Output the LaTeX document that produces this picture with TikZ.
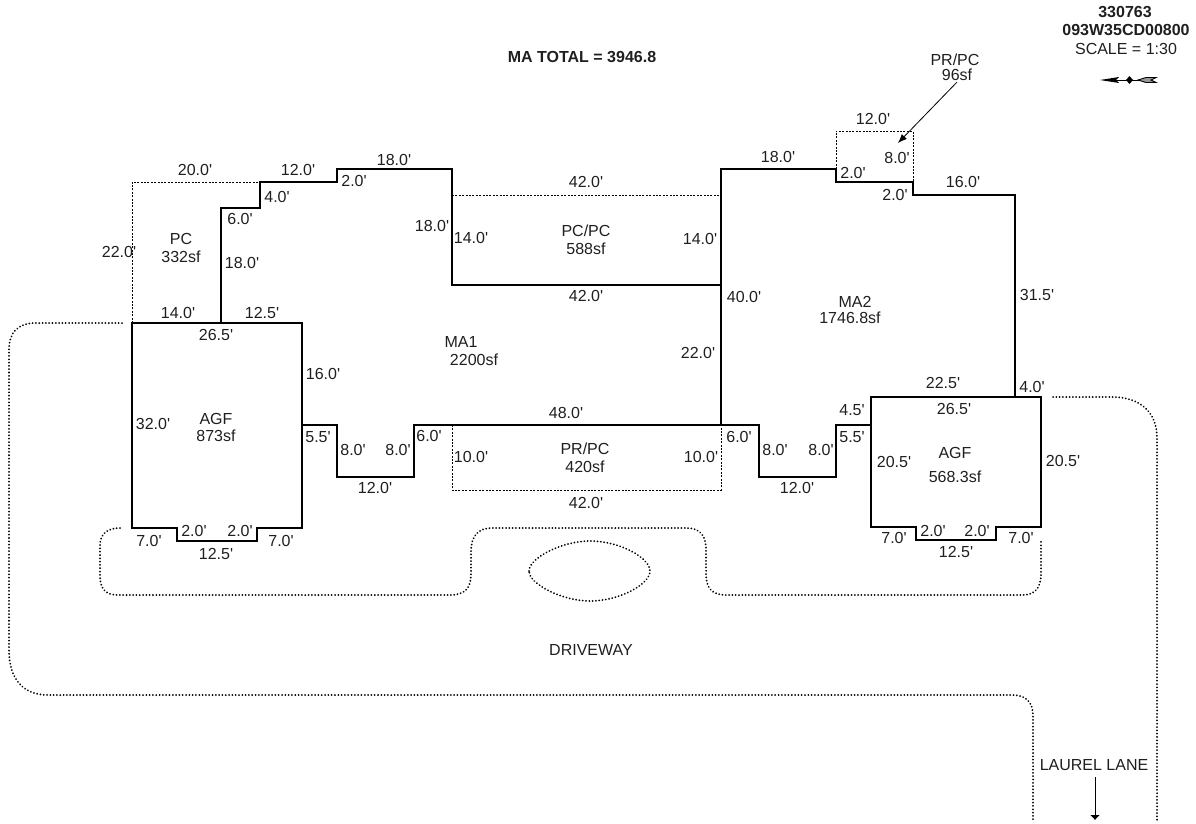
\documentclass[tikz,border=0pt]{standalone}
\usepackage{fontspec}
\newfontfamily\planfont{Liberation Sans}
\usetikzlibrary{arrows.meta}
\tikzset{
    wall/.style={line width=2.4pt, line join=miter},
    hidden/.style={line width=0.8pt, dash pattern=on 2pt off 1.4pt},
    drive/.style={line width=2pt, line cap=round, dash pattern=on 0.01pt off 3.3pt},
    leader/.style={line width=0.8pt, -{Latex[length=9pt,width=7pt]}},
    lbl/.style={inner sep=0pt, font=\planfont\fontsize{16}{17}\selectfont, text=black!88},
    bold/.style={lbl, font=\planfont\fontsize{16}{17}\selectfont\bfseries},
}
\begin{document}
\begin{tikzpicture}[x=1pt,y=-1pt]
    \useasboundingbox (0,0) rectangle (1196,823);
    % Walls
    \draw[wall] (132,323) -- (302,323) -- (302,528) -- (257,528) -- (257,541) -- (177,541) -- (177,528) -- (132,528) -- cycle;
    \draw[wall] (221,323) -- (221,208) -- (260,208) -- (260,182) -- (337,182) -- (337,169) -- (452,169) -- (452,285) -- (721,285);
    \draw[wall] (302,425) -- (337,425) -- (337,477) -- (414,477) -- (414,425) -- (759,425) -- (759,477) -- (836,477) -- (836,425) -- (871,425);
    \draw[wall] (721,425) -- (721,169) -- (836,169) -- (836,182) -- (913,182) -- (913,195) -- (1015,195) -- (1015,397);
    \draw[wall] (871,397) -- (1041,397) -- (1041,527) -- (996,527) -- (996,540) -- (916,540) -- (916,527) -- (871,527) -- cycle;
    % Porches
    \draw[hidden] (132,323) -- (132,182) -- (260,182);
    \draw[hidden] (452,195) -- (721,195);
    \draw[hidden] (452,425) -- (452,490) -- (721,490) -- (721,425);
    \draw[hidden] (836,169) -- (836,131) -- (913,131) -- (913,182);
    % Driveway
    \draw[drive] (122,323) -- (36,323) .. controls (18,323) and (9,332) .. (9,350) -- (9,650) .. controls (9,680) and (24,695) .. (48,695) -- (1012,695) .. controls (1026,695) and (1033,702) .. (1033,716) -- (1033,821);
    \draw[drive] (1053,397) -- (1112,397) .. controls (1140,397) and (1157,412) .. (1157,438) -- (1157,821);
    \draw[drive] (120,528) .. controls (107,528) and (100,534) .. (100,546) -- (100,576) .. controls (100,589) and (106,595) .. (118,595) -- (450,595) .. controls (465,595) and (471,588) .. (471,574) -- (471,552) .. controls (471,536) and (478,528) .. (492,528) -- (686,528) .. controls (700,528) and (706,535) .. (706,550) -- (706,574) .. controls (706,588) and (712,595) .. (726,595) -- (1022,595) .. controls (1035,595) and (1041,588) .. (1041,574) -- (1041,540);
    \draw[drive] (529,571) .. controls (529,558) and (562,541) .. (590,541) .. controls (620,541) and (650,558) .. (650,571) .. controls (650,584) and (620,601) .. (590,601) .. controls (562,601) and (529,584) .. (529,571) -- cycle;
    % Header
    \node[bold] (total) at (582,57) {MA TOTAL = 3946.8};
    \node[bold] (acct) at (1125,12) {330763};
    \node[bold] (parcel) at (1126,30) {093W35CD00800};
    \node[lbl] (scale) at (1126,49) {SCALE = 1:30};
    % North arrow
    \draw[line width=0.8pt] (1110,80) -- (1140,80);
    \fill[black] (1100,80) -- (1119,77) -- (1116,80) -- (1119,83) -- cycle;
    \fill[black] (1129.5,76) -- (1133,80) -- (1129.5,84) -- (1126,80) -- cycle;
    \draw[line width=0.9pt, fill=black!40] (1138,80) -- (1146,77.5) -- (1156,77.5) -- (1151,80) -- (1156,82.5) -- (1146,82.5) -- cycle;
    % Rooms
    \node[lbl] (prpcb) at (955,60) {PR/PC};
    \node[lbl] (prpcbsf) at (957,75) {96sf};
    \coordinate (prpctip) at (898,143);
    \draw[leader] (prpcbsf.south) ++(0,1) -- (prpctip);
    \node[lbl] (pc) at (181,239) {PC};
    \node[lbl] (pcsf) at (181,257) {332sf};
    \node[lbl] (pcpc) at (586,231) {PC/PC};
    \node[lbl] (pcpcsf) at (586,249) {588sf};
    \node[lbl] (ma1) at (461,342) {MA1};
    \node[lbl] (ma1sf) at (474,360) {2200sf};
    \node[lbl] (ma2) at (855,302) {MA2};
    \node[lbl] (ma2sf) at (850,318) {1746.8sf};
    \node[lbl] (agfa) at (216,419) {AGF};
    \node[lbl] (agfasf) at (216,436) {873sf};
    \node[lbl] (prpca) at (585,449) {PR/PC};
    \node[lbl] (prpcasf) at (585,467) {420sf};
    \node[lbl] (agfb) at (955,453) {AGF};
    \node[lbl] (agfbsf) at (955,477) {568.3sf};
    \node[lbl] (drv) at (591,650) {DRIVEWAY};
    \node[lbl] (lane) at (1094,765) {LAUREL LANE};
    \coordinate (lanetip) at (1095,820);
    \draw[line width=0.8pt, -{Latex[length=5pt,width=10pt]}] (1095,777) -- (lanetip);
    % Dimensions, upper left
    \node[lbl] (d01) at (195,170) {20.0'};
    \node[lbl] (d02) at (298,170) {12.0'};
    \node[lbl] (d03) at (394,160) {18.0'};
    \node[lbl] (d04) at (354,181) {2.0'};
    \node[lbl] (d05) at (277,197) {4.0'};
    \node[lbl] (d06) at (240,219) {6.0'};
    \node[lbl] (d07) at (119,252) {22.0'};
    \node[lbl] (d08) at (242,263) {18.0'};
    \node[lbl] (d09) at (432,226) {18.0'};
    \node[lbl] (d10) at (471,238) {14.0'};
    \node[lbl] (d11) at (178,313) {14.0'};
    \node[lbl] (d12) at (262,313) {12.5'};
    \node[lbl] (d13) at (216,335) {26.5'};
    % Dimensions, upper middle and right
    \node[lbl] (d14) at (586,182) {42.0'};
    \node[lbl] (d15) at (586,296) {42.0'};
    \node[lbl] (d16) at (700,239) {14.0'};
    \node[lbl] (d17) at (744,297) {40.0'};
    \node[lbl] (d18) at (698,353) {22.0'};
    \node[lbl] (d19) at (778,157) {18.0'};
    \node[lbl] (d20) at (873,119) {12.0'};
    \node[lbl] (d21) at (897,158) {8.0'};
    \node[lbl] (d22) at (853,173) {2.0'};
    \node[lbl] (d23) at (895,195) {2.0'};
    \node[lbl] (d24) at (963,182) {16.0'};
    \node[lbl] (d25) at (1037,295) {31.5'};
    % Dimensions, left garage
    \node[lbl] (d26) at (153,424) {32.0'};
    \node[lbl] (d27) at (323,374) {16.0'};
    \node[lbl] (d28) at (149,541) {7.0'};
    \node[lbl] (d29) at (194,531) {2.0'};
    \node[lbl] (d30) at (240,531) {2.0'};
    \node[lbl] (d31) at (281,541) {7.0'};
    \node[lbl] (d32) at (216,554) {12.5'};
    % Dimensions, front
    \node[lbl] (d33) at (318,437) {5.5'};
    \node[lbl] (d34) at (353,450) {8.0'};
    \node[lbl] (d35) at (398,450) {8.0'};
    \node[lbl] (d36) at (429,436) {6.0'};
    \node[lbl] (d37) at (375,488) {12.0'};
    \node[lbl] (d38) at (471,457) {10.0'};
    \node[lbl] (d39) at (566,413) {48.0'};
    \node[lbl] (d40) at (701,457) {10.0'};
    \node[lbl] (d41) at (586,503) {42.0'};
    \node[lbl] (d42) at (739,437) {6.0'};
    \node[lbl] (d43) at (775,450) {8.0'};
    \node[lbl] (d44) at (821,450) {8.0'};
    \node[lbl] (d45) at (797,488) {12.0'};
    \node[lbl] (d46) at (852,437) {5.5'};
    \node[lbl] (d47) at (852,410) {4.5'};
    % Dimensions, right garage
    \node[lbl] (d48) at (943,383) {22.5'};
    \node[lbl] (d49) at (1032,387) {4.0'};
    \node[lbl] (d50) at (954,409) {26.5'};
    \node[lbl] (d51) at (894,462) {20.5'};
    \node[lbl] (d52) at (1063,461) {20.5'};
    \node[lbl] (d53) at (894,538) {7.0'};
    \node[lbl] (d54) at (933,531) {2.0'};
    \node[lbl] (d55) at (977,531) {2.0'};
    \node[lbl] (d56) at (1021,538) {7.0'};
    \node[lbl] (d57) at (956,552) {12.5'};
\end{tikzpicture}
\end{document}
